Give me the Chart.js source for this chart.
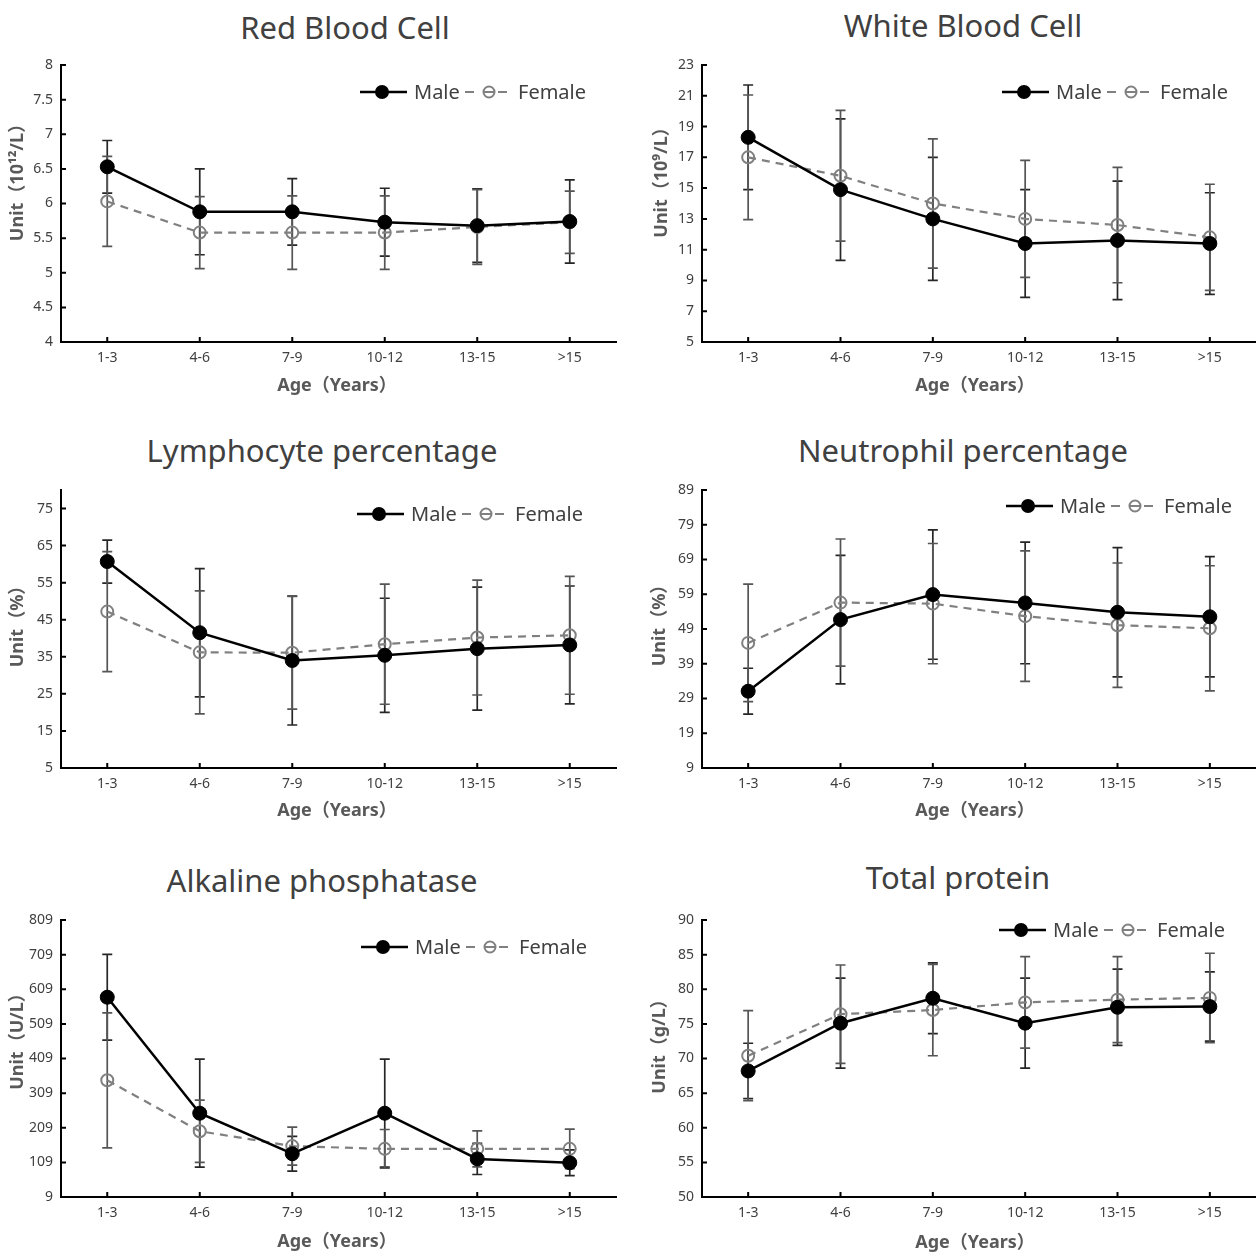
<!DOCTYPE html>
<html><head><meta charset="utf-8">
<script src="https://cdn.jsdelivr.net/npm/chart.js@4.4.1/dist/chart.umd.min.js"></script>
<style>
html,body{margin:0;padding:0;background:#fff;}
#wrap{position:relative;width:1256px;height:1256px;overflow:hidden;background:#fff;}
#wrap canvas{position:absolute;}
.ttl{position:absolute;transform:translate(-50%,-50%);white-space:nowrap;font-family:'Noto Sans','Open Sans',sans-serif;font-size:31px;color:#404040;line-height:1;}
</style></head>
<body><div id="wrap"></div>
<script>
// ---------- DATA ----------
const ageGroups = ['1-3', '4-6', '7-9', '10-12', '13-15', '>15'];

const rbcMale      = [6.53, 5.88, 5.88, 5.73, 5.68, 5.74];
const rbcMaleSD    = [0.38, 0.62, 0.48, 0.49, 0.53, 0.60];
const rbcFemale    = [6.03, 5.58, 5.58, 5.58, 5.66, 5.73];
const rbcFemaleSD  = [0.65, 0.52, 0.53, 0.53, 0.54, 0.45];
const rbcTicks     = [4, 4.5, 5, 5.5, 6, 6.5, 7, 7.5, 8];

const wbcMale      = [18.3, 14.9, 13.0, 11.4, 11.6, 11.4];
const wbcMaleSD    = [3.4, 4.6, 4.0, 3.5, 3.85, 3.3];
const wbcFemale    = [17.0, 15.8, 14.0, 13.0, 12.6, 11.8];
const wbcFemaleSD  = [4.05, 4.25, 4.2, 3.8, 3.75, 3.45];
const wbcTicks     = [5, 7, 9, 11, 13, 15, 17, 19, 21, 23];

const lymMale      = [60.7, 41.5, 34.0, 35.4, 37.2, 38.2];
const lymMaleSD    = [5.8, 17.3, 17.4, 15.4, 16.6, 15.9];
const lymFemale    = [47.2, 36.2, 36.1, 38.4, 40.2, 40.8];
const lymFemaleSD  = [16.2, 16.6, 15.2, 16.2, 15.5, 15.9];
const lymTicks     = [5, 15, 25, 35, 45, 55, 65, 75];

const neuMale      = [31.1, 51.7, 58.9, 56.5, 53.8, 52.5];
const neuMaleSD    = [6.6, 18.5, 18.6, 17.5, 18.6, 17.3];
const neuFemale    = [45.0, 56.6, 56.3, 52.7, 50.1, 49.2];
const neuFemaleSD  = [16.9, 18.3, 17.3, 18.8, 17.9, 18.0];
const neuTicks     = [9, 19, 29, 39, 49, 59, 69, 79, 89];

const alpMale      = [586, 251, 134, 251, 119, 108];
const alpMaleSD    = [124, 156, 50, 156, 45, 37];
const alpFemale    = [346, 199, 156, 148, 148, 148];
const alpFemaleSD  = [195, 90, 55, 56, 52, 57];
const alpTicks     = [9, 109, 209, 309, 409, 509, 609, 709, 809];

const tpMale       = [68.2, 75.1, 78.7, 75.1, 77.4, 77.5];
const tpMaleSD     = [4.0, 6.5, 5.1, 6.5, 5.5, 5.0];
const tpFemale     = [70.4, 76.4, 77.0, 78.1, 78.5, 78.75];
const tpFemaleSD   = [6.5, 7.1, 6.6, 6.6, 6.2, 6.45];
const tpTicks      = [50, 55, 60, 65, 70, 75, 80, 85, 90];

const legendMale = 'Male';
const legendFemale = 'Female';
const xAxisTitle = 'Age（Years）';

// ---------- LAYOUT ----------
const panels = [
  {title:'Red Blood Cell', yTitle:'Unit（10¹²/L）', male:rbcMale, maleSD:rbcMaleSD, female:rbcFemale, femaleSD:rbcFemaleSD, ticks:rbcTicks, min:4, max:8,
   left:0, top:0, w:628, h:420, L:61, R:12, T:65, H:78, titleX:345, titleY:27, legX:360, legY:92, yTX:18, yTY:178, xTX:337, xTY:386},
  {title:'White Blood Cell', yTitle:'Unit（10⁹/L）', male:wbcMale, maleSD:wbcMaleSD, female:wbcFemale, femaleSD:wbcFemaleSD, ticks:wbcTicks, min:5, max:23,
   left:628, top:0, w:648, h:420, L:74, R:20, T:65, H:78, titleX:963, titleY:25, legX:1002, legY:92, yTX:662, yTY:178, xTX:975, xTY:386},
  {title:'Lymphocyte percentage', yTitle:'Unit（%）', male:lymMale, maleSD:lymMaleSD, female:lymFemale, femaleSD:lymFemaleSD, ticks:lymTicks, min:5, max:80,
   left:0, top:420, w:628, h:430, L:61, R:12, T:70, H:82, titleX:322, titleY:450, legX:357, legY:514, yTX:18, yTY:622, xTX:337, xTY:811},
  {title:'Neutrophil percentage', yTitle:'Unit（%）', male:neuMale, maleSD:neuMaleSD, female:neuFemale, femaleSD:neuFemaleSD, ticks:neuTicks, min:9, max:89,
   left:628, top:420, w:648, h:430, L:74, R:20, T:70, H:82, titleX:963, titleY:450, legX:1006, legY:506, yTX:660, yTY:621, xTX:975, xTY:811},
  {title:'Alkaline phosphatase', yTitle:'Unit（U/L）', male:alpMale, maleSD:alpMaleSD, female:alpFemale, femaleSD:alpFemaleSD, ticks:alpTicks, min:9, max:809,
   left:0, top:850, w:628, h:406, L:61, R:12, T:70, H:59, titleX:322, titleY:880, legX:361, legY:947, yTX:18, yTY:1037, xTX:337, xTY:1242},
  {title:'Total protein', yTitle:'Unit（g/L）', male:tpMale, maleSD:tpMaleSD, female:tpFemale, femaleSD:tpFemaleSD, ticks:tpTicks, min:50, max:90,
   left:628, top:850, w:648, h:406, L:74, R:20, T:70, H:59, titleX:958, titleY:877, legX:999, legY:930, yTX:660, yTY:1042, xTX:975, xTY:1243}
];

const FONT = "'Noto Sans','Open Sans','Noto Sans CJK SC',sans-serif";
const TXT = '#404040';

function makeDecor(p) {
  return {
    id: 'decor',
    beforeDatasetsDraw(chart) {
      const ctx = chart.ctx, xs = chart.scales.x, ys = chart.scales.y;
      chart.data.datasets.forEach(ds => {
        ctx.save();
        ctx.strokeStyle = ds.errColor;
        ctx.lineWidth = 1.7;
        ds.data.forEach((v, i) => {
          const sd = ds.errorBars[i];
          const x = xs.getPixelForValue(i);
          const yt = ys.getPixelForValue(v + sd);
          const yb = ys.getPixelForValue(v - sd);
          ctx.beginPath();
          ctx.moveTo(x, yt); ctx.lineTo(x, yb);
          ctx.moveTo(x - 5, yt); ctx.lineTo(x + 5, yt);
          ctx.moveTo(x - 5, yb); ctx.lineTo(x + 5, yb);
          ctx.stroke();
        });
        ctx.restore();
      });
    },
    afterDraw(chart) {
      const ctx = chart.ctx, xs = chart.scales.x, ys = chart.scales.y, ca = chart.chartArea;
      ctx.save();
      // inside tick marks
      ctx.strokeStyle = '#000';
      ctx.lineWidth = 2;
      ctx.beginPath();
      ys.ticks.forEach(t => {
        const y = ys.getPixelForValue(t.value);
        ctx.moveTo(ca.left, y); ctx.lineTo(ca.left + 5, y);
      });
      chart.data.labels.forEach((l, i) => {
        const x = xs.getPixelForValue(i);
        ctx.moveTo(x, ca.bottom); ctx.lineTo(x, ca.bottom - 5);
      });
      ctx.stroke();

      // legend
      const lx = p.legX - p.left, ly = p.legY - p.top;
      ctx.strokeStyle = '#000'; ctx.lineWidth = 2.5; ctx.setLineDash([]);
      ctx.beginPath(); ctx.moveTo(lx, ly); ctx.lineTo(lx + 47, ly); ctx.stroke();
      ctx.fillStyle = '#000';
      ctx.beginPath(); ctx.arc(lx + 22, ly, 7, 0, Math.PI * 2); ctx.fill();
      ctx.font = '20px ' + FONT; ctx.fillStyle = TXT;
      ctx.textAlign = 'left'; ctx.textBaseline = 'middle';
      ctx.fillText(legendMale, lx + 54, ly + 1);
      ctx.strokeStyle = '#808080'; ctx.lineWidth = 2.2;
      ctx.beginPath(); ctx.moveTo(lx + 105, ly); ctx.lineTo(lx + 114, ly);
      ctx.moveTo(lx + 138, ly); ctx.lineTo(lx + 147, ly); ctx.moveTo(lx + 124, ly); ctx.lineTo(lx + 134, ly); ctx.stroke();
      ctx.lineWidth = 2;
      ctx.beginPath(); ctx.arc(lx + 129, ly, 5.5, 0, Math.PI * 2); ctx.stroke();
      ctx.fillStyle = TXT;
      ctx.fillText(legendFemale, lx + 158, ly + 1);

      // axis titles
      ctx.font = 'bold 18px ' + FONT; ctx.fillStyle = '#595959';
      ctx.textAlign = 'center'; ctx.textBaseline = 'middle';
      ctx.fillText(xAxisTitle, p.xTX - p.left, p.xTY - p.top);
      ctx.translate(p.yTX - p.left, p.yTY - p.top);
      ctx.rotate(-Math.PI / 2);
      ctx.fillText(p.yTitle, 0, 0);
      ctx.restore();
    }
  };
}

const wrap = document.getElementById('wrap');
panels.forEach(p => {
  const t = document.createElement('div');
  t.className = 'ttl';
  t.style.left = p.titleX + 'px';
  t.style.top = p.titleY + 'px';
  t.textContent = p.title;
  wrap.appendChild(t);

  const c = document.createElement('canvas');
  c.width = p.w; c.height = p.h;
  c.style.left = p.left + 'px'; c.style.top = p.top + 'px';
  c.style.width = p.w + 'px'; c.style.height = p.h + 'px';
  wrap.appendChild(c);

  new Chart(c, {
    type: 'line',
    data: {
      labels: ageGroups,
      datasets: [
        {label: legendMale, data: p.male, errorBars: p.maleSD, errColor: '#262626',
         borderColor: '#000', borderWidth: 2.5, pointRadius: 7, pointBackgroundColor: '#000',
         pointBorderColor: '#000', pointBorderWidth: 1, tension: 0, fill: false},
        {label: legendFemale, data: p.female, errorBars: p.femaleSD, errColor: '#555555',
         borderColor: '#808080', borderWidth: 2.2, borderDash: [8, 6], pointRadius: 6,
         pointBackgroundColor: 'rgba(0,0,0,0)', pointBorderColor: '#808080', pointBorderWidth: 2,
         tension: 0, fill: false}
      ]
    },
    options: {
      responsive: false, animation: false, devicePixelRatio: 1,
      layout: {padding: {left: 0, right: p.R, top: p.T, bottom: 0}},
      plugins: {legend: {display: false}, title: {display: false}, tooltip: {enabled: false}},
      scales: {
        x: {
          type: 'category', offset: true,
          grid: {display: false, drawTicks: false},
          border: {display: true, color: '#000', width: 2},
          ticks: {color: TXT, font: {family: FONT, size: 14}, padding: 8, maxRotation: 0, autoSkip: false},
          afterFit: s => { s.height = p.H; }
        },
        y: {
          min: p.min, max: p.max,
          grid: {display: false, drawTicks: false},
          border: {display: true, color: '#000', width: 2},
          ticks: {color: TXT, font: {family: FONT, size: 14}, padding: 8, callback: v => String(v)},
          afterBuildTicks: s => { s.ticks = p.ticks.map(v => ({value: v})); },
          afterFit: s => { s.width = p.L; }
        }
      }
    },
    plugins: [makeDecor(p)]
  });
});
</script>
</body></html>
